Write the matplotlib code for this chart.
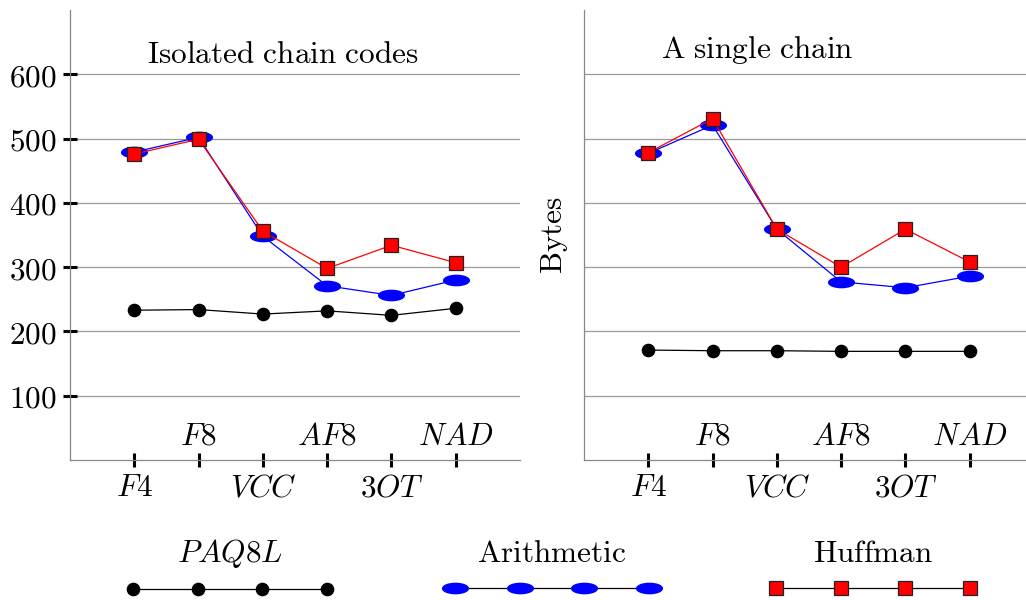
import numpy as np
import matplotlib.pyplot as plt
from matplotlib.path import Path
from matplotlib.lines import Line2D

plt.rcParams['mathtext.fontset'] = 'cm'
plt.rcParams['font.family'] = ['DejaVu Serif']

# data
codes = ['F4', 'F8', 'VCC', 'AF8', '3OT', 'NAD']
paq_iso = [233, 234, 227, 232, 225, 236]
arith_iso = [479, 502, 348, 271, 256, 280]
huff_iso = [476, 499, 356, 298, 334, 307]
paq_single = [171, 170, 170, 169, 169, 169]
arith_single = [477, 521, 359, 277, 268, 286]
huff_single = [478, 531, 359, 300, 359, 308]
yticks = [100, 200, 300, 400, 500, 600]

FS = 22.5

# flat ellipse marker for the arithmetic series
circ = Path.unit_circle()
ellipse = Path(circ.vertices * np.array([1.0, 0.4]), circ.codes)

styles = {
    'paq': dict(color='black', marker='o', ms=8.8, lw=0.9),
    'arith': dict(color='blue', marker=ellipse, ms=18.5, lw=0.9),
    'huff': dict(color='red', marker='s', ms=9.6, lw=0.9, mec='#222222', mew=0.9),
}

fig = plt.figure(figsize=(10.26, 6), dpi=100)
ax1 = fig.add_axes([70/1026, 140/600, 450/1026, 450/600])
ax2 = fig.add_axes([584/1026, 140/600, 450/1026, 450/600])

x = np.arange(1, len(codes) + 1)

def draw(ax, paq, arith, huff, title, ty):
    ax.plot(x, paq, **styles['paq'])
    ax.plot(x, arith, **styles['arith'])
    ax.plot(x, huff, **styles['huff'])
    ax.set_xlim(0, 7)
    ax.set_ylim(0, 700)
    for s in ['top', 'right']:
        ax.spines[s].set_visible(False)
    for s in ['left', 'bottom']:
        ax.spines[s].set_color('#888888')
        ax.spines[s].set_linewidth(0.9)
    ax.set_axisbelow(True)
    ax.grid(axis='y', color='#999999', lw=0.9)
    ax.set_yticks(yticks)
    # odd codes below the axis, even codes above it
    ax.set_xticks(x[::2], [f'${c}$' for c in codes[::2]])
    ax.set_xticks(x[1::2], [f'${c}$' for c in codes[1::2]], minor=True)
    ax.tick_params(axis='x', which='both', direction='inout', length=9.5, width=2.2,
                   color='black', labelsize=FS)
    ax.tick_params(axis='x', which='major', pad=4)
    ax.tick_params(axis='x', which='minor', pad=-33)
    ax.text(1.2, ty, title, fontsize=FS, ha='left', va='baseline')

draw(ax1, paq_iso, arith_iso, huff_iso, r'$\mathrm{Isolated\ chain\ codes}$', 617)
draw(ax2, paq_single, arith_single, huff_single, r'$\mathrm{A\ single\ chain}$', 626)

ax1.set_yticks(yticks, [f'${v}$' for v in yticks])
ax1.tick_params(axis='y', direction='inout', length=9.5, width=2.2, color='black',
                labelsize=FS, pad=5)
ax2.tick_params(axis='y', length=0, labelleft=False)
ax2.set_ylabel(r'$\mathrm{Bytes}$', fontsize=FS, labelpad=10)

# legend: one group per coder, name above a black line with four markers
groups = [('paq', r'$PAQ8L$', 230), ('arith', r'$\mathrm{Arithmetic}$', 552),
          ('huff', r'$\mathrm{Huffman}$', 873)]
for key, name, cx in groups:
    st = dict(styles[key])
    st['mfc'] = st['color']
    st.setdefault('mec', st['color'])
    st['color'] = 'black'
    h = Line2D([], [], **st)
    fig.legend(handles=[h], labels=[''], title=name, title_fontsize=FS, fontsize=20,
               numpoints=4, handlelength=7.55, handletextpad=0, frameon=False,
               loc='center', bbox_to_anchor=(cx/1026, 1 - 571/600),
               borderpad=0, borderaxespad=0, labelspacing=0.3)

fig.savefig('out.png', dpi=100)
